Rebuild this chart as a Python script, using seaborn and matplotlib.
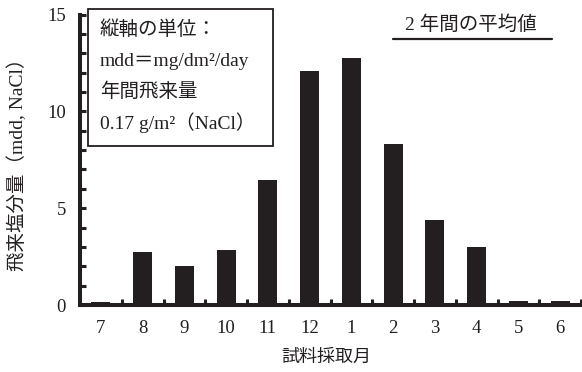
import matplotlib
matplotlib.use("Agg")
import matplotlib.pyplot as plt
from matplotlib.patches import Rectangle
from matplotlib.lines import Line2D
from matplotlib.ticker import FixedLocator, MultipleLocator
import seaborn as sns
import pandas as pd

# Monthly airborne salt (two-year mean), mdd as NaCl
months = ["7", "8", "9", "10", "11", "12", "1", "2", "3", "4", "5", "6"]
salt_mdd = [0.15, 2.72, 2.0, 2.82, 6.44, 12.08, 12.77, 8.33, 4.38, 3.0, 0.2, 0.2]

y_ticks = [0, 5, 10, 15]
box_lines = ["縦軸の単位：", "mdd＝mg/dm²/day", "年間飛来量", "0.17 g/m²（NaCl）"]
title_text = "2 年間の平均値"
x_label = "試料採取月"
y_label = "飛来塩分量（mdd, NaCl）"

INK = "#231f20"

sns.set_style("white")
plt.rcParams["font.family"] = ["Liberation Serif", "Noto Sans CJK JP"]
plt.rcParams["text.color"] = INK

W, H = 582, 372
fig = plt.figure(figsize=(W / 100, H / 100), dpi=100)
ax = fig.add_axes([80 / W, (H - 305) / H, (581 - 80) / W, (305 - 14.5) / H])

df = pd.DataFrame({"month": months, "value": salt_mdd})
sns.barplot(data=df, x="month", y="value", order=months, color=INK,
            saturation=1, width=0.45, ax=ax, edgecolor="none")

ax.set_xlim(-0.5, len(months) - 0.5)
ax.set_ylim(0, 15)

for side in ("top", "right"):
    ax.spines[side].set_visible(False)
for side in ("left", "bottom"):
    ax.spines[side].set_linewidth(2.9)
    ax.spines[side].set_color(INK)

# y axis: major every 5, minor every 1, inward
ax.yaxis.set_major_locator(FixedLocator(y_ticks))
ax.yaxis.set_minor_locator(MultipleLocator(1))
ax.tick_params(axis="y", which="both", direction="in", length=4.5, width=2.2,
               color=INK, left=True, pad=10, labelsize=13.5, labelcolor=INK)

# x axis: labels at categories, tick marks between categories
ax.xaxis.set_minor_locator(FixedLocator([i + 0.5 for i in range(len(months))]))
ax.tick_params(axis="x", which="major", length=0, pad=11, labelsize=13.5,
               labelcolor=INK)
ax.tick_params(axis="x", which="minor", direction="in", length=4.5, width=2.2,
               color=INK, bottom=True)

ax.set_xlabel("")
ax.set_ylabel("")
fig.text(326 / W, 1 - 357 / H, x_label, ha="center", va="center", fontsize=13)
fig.text(17 / W, 1 - 160 / H, y_label, ha="center", va="center",
         rotation=90, fontsize=14)

# unit box
bx0, bx1, by0, by1 = 88, 273, 9, 146
fig.add_artist(Rectangle((bx0 / W, 1 - by1 / H), (bx1 - bx0) / W, (by1 - by0) / H,
                         transform=fig.transFigure, facecolor="white",
                         edgecolor=INK, linewidth=1.3, zorder=5))
for i, line in enumerate(box_lines):
    fig.text(100 / W, 1 - (30 + 31 * i) / H, line, ha="left", va="center",
             fontsize=14, zorder=6)

# underlined title
fig.text(471 / W, 1 - 25 / H, title_text, ha="center", va="center", fontsize=14)
fig.add_artist(Line2D([393 / W, 552 / W], [1 - 39 / H, 1 - 39 / H],
                      transform=fig.transFigure, color=INK, linewidth=1.6))

fig.savefig("out.png", dpi=100)
